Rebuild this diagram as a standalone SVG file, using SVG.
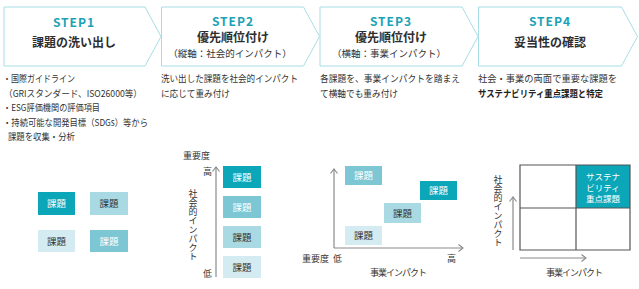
<svg xmlns="http://www.w3.org/2000/svg" width="639" height="289" viewBox="0 0 639 289">
<style>
text{font-family:"Noto Sans CJK JP","Noto Sans",sans-serif;fill:#333}
.chev{fill:#fff;stroke:#a8dde8;stroke-width:1}
.step{font-size:12px;font-weight:700;fill:#1ba2b6;letter-spacing:1px;text-anchor:middle}
.title{font-size:12px;font-weight:700;text-anchor:middle;fill:#2e2e2e}
.sub{font-size:9.5px;text-anchor:middle;fill:#333}
.body{font-size:9.5px;fill:#333}
.lbl{font-size:9px;fill:#333}
.vt{font-size:9px;fill:#333;writing-mode:vertical-rl;text-orientation:upright;letter-spacing:0px}
.bx{font-size:9.5px;text-anchor:middle}
.kt{font-size:8.5px;text-anchor:middle;fill:#fff}
.c1{fill:#0ba6b8}.c2{fill:#7dc6d3}.c3{fill:#a9d9e2}.c4{fill:#d3ebf1}
.w{fill:#fff}.d{fill:#333}
.ax{fill:none;stroke:#8a8a8a;stroke-width:1.2}
.grid{fill:none;stroke:#555;stroke-width:1.2}
</style>
<defs>
<marker id="ah" markerUnits="userSpaceOnUse" viewBox="-6 -5 8 10" markerWidth="8" markerHeight="10" refX="0" refY="0" orient="auto">
<path d="M-4.5,-3.5 L0,0 L-4.5,3.5" fill="none" stroke="#8a8a8a" stroke-width="1.1"/>
</marker>
</defs>

<g id="step1">
<path class="chev" d="M4,7 H145 L161,36.5 L145,66 H4 Z"/>
<text class="step" x="74" y="27">STEP1</text>
<text class="title" x="74" y="47">課題の洗い出し</text>
</g>
<g id="step2">
<path class="chev" d="M161.5,7 H303.5 L319.5,36.5 L303.5,66 H161.5 Z"/>
<text class="step" x="233" y="26">STEP2</text>
<text class="title" x="233" y="42">優先順位付け</text>
<text class="sub" x="230" y="57">（縦軸：社会的インパクト）</text>
</g>
<g id="step3">
<path class="chev" d="M320,7 H462 L478,36.5 L462,66 H320 Z"/>
<text class="step" x="391" y="26">STEP3</text>
<text class="title" x="391" y="42">優先順位付け</text>
<text class="sub" x="389" y="57">（横軸：事業インパクト）</text>
</g>
<g id="step4">
<path class="chev" d="M478.5,7 H621.5 L637.5,36.5 L621.5,66 H478.5 Z"/>
<text class="step" x="550" y="26">STEP4</text>
<text class="title" x="550" y="47">妥当性の確認</text>
</g>

<g id="desc1">
<text class="body" x="3" y="82" textLength="72" lengthAdjust="spacingAndGlyphs">・国際ガイドライン</text>
<text class="body" x="4" y="96.5" textLength="138" lengthAdjust="spacingAndGlyphs">（GRIスタンダード、ISO26000等）</text>
<text class="body" x="3" y="111" textLength="97" lengthAdjust="spacingAndGlyphs">・ESG評価機関の評価項目</text>
<text class="body" x="3" y="125.5" textLength="145" lengthAdjust="spacingAndGlyphs">・持続可能な開発目標（SDGs）等から</text>
<text class="body" x="8" y="140" textLength="67" lengthAdjust="spacingAndGlyphs">課題を収集・分析</text>
</g>
<g id="desc2">
<text class="body" x="161" y="82" textLength="137" lengthAdjust="spacingAndGlyphs">洗い出した課題を社会的インパクト</text>
<text class="body" x="161" y="96.5" textLength="69" lengthAdjust="spacingAndGlyphs">に応じて重み付け</text>
</g>
<g id="desc3">
<text class="body" x="320" y="82" textLength="140" lengthAdjust="spacingAndGlyphs">各課題を、事業インパクトを踏まえ</text>
<text class="body" x="320" y="96.5" textLength="78" lengthAdjust="spacingAndGlyphs">て横軸でも重み付け</text>
</g>
<g id="desc4">
<text class="body" x="478" y="82" textLength="139" lengthAdjust="spacingAndGlyphs">社会・事業の両面で重要な課題を</text>
<text class="body" x="478" y="96.5" textLength="125" lengthAdjust="spacingAndGlyphs" font-weight="700" style="fill:#222">サステナビリティ重点課題と特定</text>
</g>

<g id="diagram1">
<g id="d1-a"><rect class="c1" x="38" y="192" width="37" height="23"/><text class="bx w" x="56.5" y="207">課題</text></g>
<g id="d1-b"><rect class="c3" x="90" y="192" width="38" height="23"/><text class="bx d" x="109" y="207">課題</text></g>
<g id="d1-c"><rect class="c4" x="38" y="230" width="37" height="22"/><text class="bx d" x="56.5" y="244.5">課題</text></g>
<g id="d1-d"><rect class="c2" x="90" y="230" width="38" height="22"/><text class="bx w" x="109" y="244.5">課題</text></g>
</g>

<g id="diagram2">
<text class="lbl" x="183" y="159">重要度</text>
<text class="lbl" x="203" y="175">高</text>
<text class="lbl" x="203" y="277">低</text>
<text class="vt" x="193" y="189">社会的インパクト</text>
<g id="d2-a"><rect class="c1" x="223" y="166" width="38" height="22"/><text class="bx w" x="242" y="180.5">課題</text></g>
<g id="d2-b"><rect class="c2" x="223" y="196" width="38" height="22"/><text class="bx w" x="242" y="210.5">課題</text></g>
<g id="d2-c"><rect class="c3" x="223" y="226" width="38" height="22"/><text class="bx d" x="242" y="240.5">課題</text></g>
<g id="d2-d"><rect class="c4" x="223" y="256" width="38" height="22"/><text class="bx d" x="242" y="270.5">課題</text></g>
</g>

<g id="diagram3">
<g id="d3-a"><rect class="c2" x="345" y="166" width="37" height="19"/><text class="bx w" x="363.5" y="179">課題</text></g>
<g id="d3-b"><rect class="c1" x="420" y="181" width="37" height="19"/><text class="bx w" x="438.5" y="194">課題</text></g>
<g id="d3-c"><rect class="c3" x="384" y="203" width="37" height="20"/><text class="bx d" x="402.5" y="216.5">課題</text></g>
<g id="d3-d"><rect class="c4" x="345" y="226" width="37" height="19"/><text class="bx d" x="363.5" y="239">課題</text></g>
<text class="lbl" x="302" y="262">重要度</text>
<text class="lbl" x="333" y="262">低</text>
<text class="lbl" x="447" y="262">高</text>
<text class="lbl" x="370" y="276" textLength="57">事業インパクト</text>
</g>

<g id="diagram4">
<g id="d4-key">
<rect class="c1" x="576" y="165" width="54" height="43"/>
<text class="kt" x="603" y="179.5">サステナ</text>
<text class="kt" x="603" y="190.5">ビリティ</text>
<text class="kt" x="603" y="201.5">重点課題</text>
</g>
<path class="grid" d="M520,165 H630 V250 H520 Z M576,165 V250 M520,208 H630"/>
<text class="vt" x="498" y="175">社会的インパクト</text>
<text class="lbl" x="546" y="276" textLength="57">事業インパクト</text>
</g>

<g id="connectors">
<path class="ax" d="M216,277 V167" marker-end="url(#ah)"/>
<path class="ax" d="M334,248 V169" marker-end="url(#ah)"/>
<path class="ax" d="M334,248 H463" marker-end="url(#ah)"/>
<path class="ax" d="M513,250 V197" marker-end="url(#ah)"/>
<path class="ax" d="M520,258 H586" marker-end="url(#ah)"/>
</g>
</svg>
